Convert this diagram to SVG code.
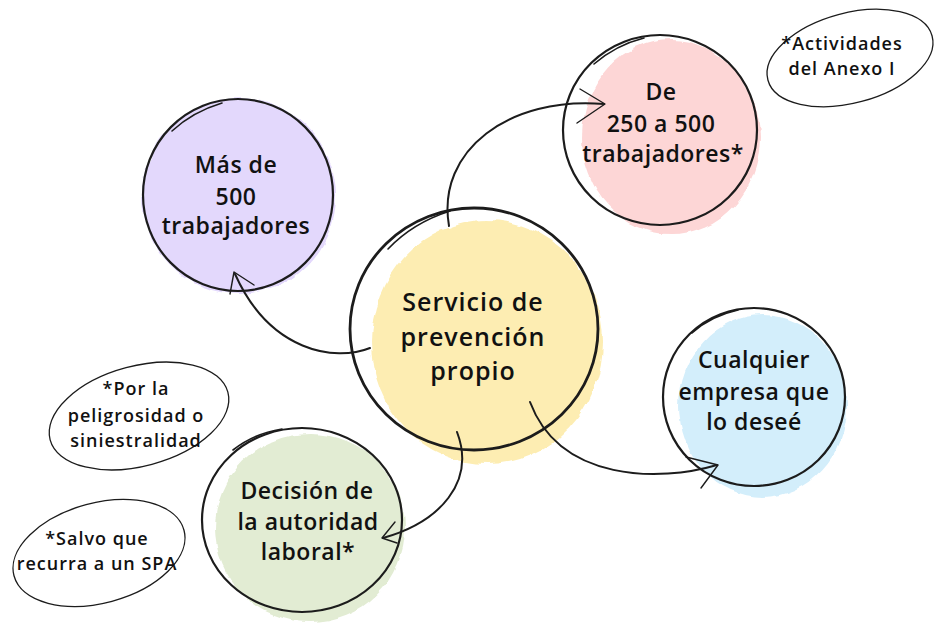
<svg xmlns="http://www.w3.org/2000/svg" width="941" height="632" viewBox="0 0 941 632">
<defs>
<filter id="rough" x="-10%" y="-10%" width="120%" height="120%">
<feTurbulence type="fractalNoise" baseFrequency="0.06" numOctaves="2" seed="3" result="n"/>
<feDisplacementMap in="SourceGraphic" in2="n" scale="6" xChannelSelector="R" yChannelSelector="G"/>
</filter>
</defs>
<style>
.outline{fill:none;stroke:#1c1c1c;stroke-width:2.2;stroke-linecap:round}
.extra{fill:none;stroke:#1c1c1c;stroke-width:1.6;stroke-linecap:round}
.thin{fill:none;stroke:#1c1c1c;stroke-width:1.3;stroke-linecap:round}
.conn{fill:none;stroke:#1c1c1c;stroke-width:2;stroke-linecap:round;stroke-linejoin:round}
.head{fill:none;stroke:#1c1c1c;stroke-width:1.4;stroke-linecap:round;stroke-linejoin:round}
.big{font-family:"Open Sans","Noto Sans","DejaVu Sans",sans-serif;font-weight:600;fill:#111;text-anchor:middle;letter-spacing:0.5px}
.note{font-family:"Open Sans","Noto Sans","DejaVu Sans",sans-serif;font-weight:600;font-size:18px;fill:#111;text-anchor:middle;letter-spacing:1px}
</style>
<rect width="941" height="632" fill="#ffffff"/>

<g id="node-center">
<ellipse cx="487" cy="342" rx="116" ry="122" fill="#fdedb2" filter="url(#rough)"/>
<ellipse class="outline" cx="474" cy="329" rx="124" ry="121" style="stroke-width:2.8"/>
<path class="extra" d="M388,249 C405,231 425,219 450,211"/>
<text class="big" font-size="25" x="473" y="311" style="letter-spacing:1px">Servicio de</text>
<text class="big" font-size="25" x="473" y="346" style="letter-spacing:1px">prevención</text>
<text class="big" font-size="25" x="473" y="380" style="letter-spacing:1px">propio</text>
</g>

<g id="node-mas500">
<ellipse cx="239" cy="196" rx="97" ry="98" fill="#e3d8fc" filter="url(#rough)"/>
<ellipse class="outline" cx="238" cy="195" rx="95" ry="96"/>
<path class="extra" d="M172,131 C186,118 202,109 222,103"/>
<text class="big" font-size="23" x="236" y="173">Más de</text>
<text class="big" font-size="23" x="236" y="205">500</text>
<text class="big" font-size="23" x="236" y="234">trabajadores</text>
</g>

<g id="node-250a500">
<ellipse cx="671" cy="137" rx="89" ry="97" fill="#fdd6d6" filter="url(#rough)"/>
<ellipse class="outline" cx="660" cy="130" rx="97" ry="95"/>
<path class="extra" d="M594,64 C608,52 624,43 644,38"/>
<text class="big" font-size="23" x="661" y="100">De</text>
<text class="big" font-size="23" x="661" y="132">250 a 500</text>
<text class="big" font-size="23" x="663" y="162">trabajadores*</text>
</g>

<g id="node-cualquier">
<ellipse cx="763" cy="406" rx="84" ry="91" fill="#d3eefb" filter="url(#rough)"/>
<ellipse class="outline" cx="754" cy="397" rx="91" ry="89"/>
<path class="extra" d="M692,333 C704,322 720,314 738,310"/>
<text class="big" font-size="23" x="754" y="368">Cualquier</text>
<text class="big" font-size="23" x="754" y="400">empresa que</text>
<text class="big" font-size="23" x="754" y="430">lo deseé</text>
</g>

<g id="node-decision">
<ellipse cx="310" cy="528" rx="95" ry="94" fill="#e2ecd3" filter="url(#rough)"/>
<ellipse class="outline" cx="302" cy="520" rx="100" ry="92"/>
<path class="extra" d="M233,450 C247,439 263,432 282,429"/>
<text class="big" font-size="23" x="307" y="499">Decisión de</text>
<text class="big" font-size="23" x="308" y="530">la autoridad</text>
<text class="big" font-size="23" x="308" y="560">laboral*</text>
</g>

<g id="note-anexo">
<ellipse class="thin" cx="850" cy="58" rx="85" ry="45" transform="rotate(-15 850 58)"/>
<text class="note" font-size="19" x="842" y="50">*Actividades</text>
<text class="note" font-size="19" x="842" y="75">del Anexo I</text>
</g>

<g id="note-peligrosidad">
<ellipse class="thin" cx="139" cy="416" rx="92" ry="50" transform="rotate(-15 139 416)"/>
<text class="note" x="136" y="395">*Por la</text>
<text class="note" x="136" y="422">peligrosidad o</text>
<text class="note" x="136" y="447">siniestralidad</text>
</g>

<g id="note-spa">
<ellipse class="thin" cx="99" cy="553" rx="88" ry="50" transform="rotate(-15 99 553)"/>
<text class="note" x="97" y="545">*Salvo que</text>
<text class="note" x="97" y="570">recurra a un SPA</text>
</g>

<g id="connectors">
<path class="conn" d="M370,348 C335,362 270,352 235,274"/>
<path class="head" d="M230,294 L234,272 L254,285"/>
<path class="conn" d="M449,226 C436,150 510,96 604,104"/>
<path class="head" d="M580,89 L605,104 L577,123"/>
<path class="conn" d="M530,402 C560,482 660,482 717,465"/>
<path class="head" d="M686,457 L718,465 L701,488"/>
<path class="conn" d="M457,432 C476,482 440,522 383,538"/>
<path class="head" d="M395,522 L382,538 L397,543"/>
</g>
</svg>
